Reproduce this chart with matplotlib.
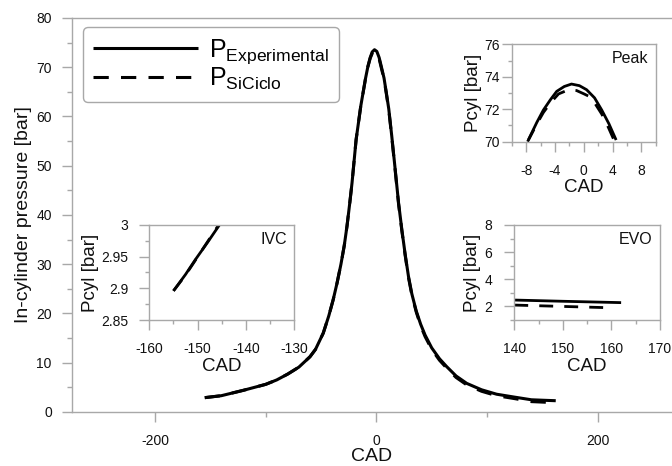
"""In-cylinder pressure: experiment vs SiCiclo, with IVC / peak / EVO close-ups."""

import matplotlib
matplotlib.use("Agg")
import matplotlib.pyplot as plt
from matplotlib.ticker import FormatStrFormatter, MultipleLocator

plt.rcParams["font.family"] = ["Liberation Sans", "DejaVu Sans"]
plt.rcParams["mathtext.fontset"] = "custom"
plt.rcParams["mathtext.rm"] = "Liberation Sans"
plt.rcParams["axes.unicode_minus"] = False

SPINE = "#a8a8a8"
INK = "#111111"

# Full cycle.
cad_exp = [-155, -140, -120, -100, -90, -80, -70, -60, -55, -48, -43, -39, -35.5, -32, -29,
           -26.5, -24, -22, -18.3, -14.1, -10, -7.7, -5.6, -3.75, -1.7, 0.4, 2.5, 4.5, 6.9,
           9, 11.2, 13.9, 17.1, 20, 23, 26, 29, 32, 36, 40, 44, 50, 57, 63.5, 72, 81.6, 95,
           108.6, 125, 140, 150, 162]
p_exp = [2.9, 3.3, 4.4, 5.6, 6.5, 7.7, 9.1, 11.2, 12.7, 16.0, 19.5, 22.8, 26.2, 30.0, 33.8,
         37.8, 42.5, 46.5, 55.3, 62.1, 67.5, 70.1, 71.95, 73.1, 73.55, 73.2, 71.95, 70.1, 67.8,
         64.8, 61.5, 56.0, 49.0, 42.5, 37.0, 32.0, 27.5, 24.0, 20.5, 17.8, 15.6, 13.0, 10.8,
         9.2, 7.3, 5.8, 4.5, 3.6, 3.0, 2.47, 2.38, 2.28]
cad_sim = [-155, -140, -120, -100, -90, -80, -70, -60, -55, -48, -43, -39, -35.5, -32, -29,
           -26.5, -24, -22, -18.3, -14.1, -10, -7.8, -5.6, -3.5, -2.1, 0.7, 2.5, 4.3, 6.9,
           9, 11.2, 13.9, 17.1, 20, 23, 26, 29, 32, 36, 40, 44, 50, 57, 63.5, 72, 81.6, 95,
           108.6, 125, 140, 150, 159]
p_sim = [2.9, 3.3, 4.4, 5.6, 6.5, 7.7, 9.1, 11.2, 12.7, 16.0, 19.5, 22.8, 26.2, 30.0, 33.8,
         37.8, 42.5, 46.5, 55.3, 62.1, 67.4, 70.0, 71.8, 72.94, 73.2, 72.8, 71.7, 70.0, 67.6,
         64.6, 61.3, 55.8, 48.8, 42.3, 36.8, 31.8, 27.3, 23.8, 20.3, 17.5, 15.3, 12.7, 10.5,
         8.9, 7.0, 5.5, 4.2, 3.3, 2.7, 2.1, 2.0, 1.91]

# Close-up: intake valve closing.
ivc_cad_exp = [-155, -152.5, -150.5, -148, -145.5]
ivc_p_exp = [2.896, 2.922, 2.945, 2.972, 3.0]
ivc_cad_sim = [-155, -152.5, -150.5, -148, -145.5]
ivc_p_sim = [2.896, 2.921, 2.944, 2.973, 3.002]

# Close-up: pressure peak.
peak_cad_exp = [-7.7, -6.5, -5.6, -4.6, -3.75, -2.7, -1.7, -0.6, 0.4, 1.5, 2.5, 3.5, 4.5]
peak_p_exp = [70.1, 71.2, 71.95, 72.6, 73.1, 73.4, 73.55, 73.45, 73.2, 72.7, 71.95, 71.1, 70.1]
peak_cad_sim = [-7.8, -6.5, -5.6, -4.6, -3.5, -2.1, -1.0, 0.0, 0.7, 1.5, 2.5, 3.4, 4.3]
peak_p_sim = [70.0, 71.1, 71.8, 72.4, 72.94, 73.2, 73.15, 72.95, 72.8, 72.4, 71.7, 70.9, 70.0]

# Close-up: exhaust valve opening.
evo_cad_exp = [140, 150, 162]
evo_p_exp = [2.47, 2.38, 2.28]
evo_cad_sim = [140, 150, 159]
evo_p_sim = [2.1, 2.0, 1.91]

LABEL_EXP = r"$\mathregular{P_{Experimental}}$"
LABEL_SIM = r"$\mathregular{P_{SiCiclo}}$"


def style_axes(ax, tick_len, label_size, xpad, ypad, box=True):
    for spine in ax.spines.values():
        spine.set_color(SPINE)
        spine.set_linewidth(1.0)
    if not box:
        ax.spines["right"].set_visible(False)
    ax.tick_params(which="both", direction="out", color=SPINE, labelcolor=INK,
                   labelsize=label_size, top=False, right=False)
    ax.tick_params(which="major", length=tick_len, width=1.0)
    ax.tick_params(which="minor", length=tick_len * 0.45, width=1.0)
    ax.tick_params(axis="x", pad=xpad)
    ax.tick_params(axis="y", pad=ypad)
    ax.xaxis.set_major_formatter(FormatStrFormatter("%g"))
    ax.yaxis.set_major_formatter(FormatStrFormatter("%g"))


def draw_pair(ax, cad_a, p_a, cad_b, p_b, lw=2.2):
    ax.plot(cad_a, p_a, color="black", linewidth=lw, solid_capstyle="butt", label=LABEL_EXP)
    ax.plot(cad_b, p_b, color="black", linewidth=lw, linestyle=(0, (5, 4)), label=LABEL_SIM)


def inset(fig, rect, cad_a, p_a, cad_b, p_b, xlim, ylim, xmaj, xmin, ymaj, ymin, tag, ypad):
    ax = fig.add_axes(rect)
    draw_pair(ax, cad_a, p_a, cad_b, p_b, lw=2.0)
    ax.set_xlim(*xlim)
    ax.set_ylim(*ylim)
    ax.xaxis.set_major_locator(MultipleLocator(xmaj))
    ax.xaxis.set_minor_locator(MultipleLocator(xmin))
    ax.yaxis.set_major_locator(MultipleLocator(ymaj))
    ax.yaxis.set_minor_locator(MultipleLocator(ymin))
    style_axes(ax, 7, 10, 9, ypad)
    ax.set_xlabel("CAD", fontsize=13.5, color=INK, labelpad=1)
    ax.set_ylabel("Pcyl [bar]", fontsize=13.5, color=INK, labelpad=2)
    ax.text(0.95, 0.93, tag, transform=ax.transAxes, ha="right", va="top",
            fontsize=11.5, color=INK)
    return ax


def main():
    fig = plt.figure(figsize=(6.72, 4.66), dpi=100)

    ax = fig.add_axes([0.107, 0.116, 0.893, 0.8455])
    draw_pair(ax, cad_exp, p_exp, cad_sim, p_sim)
    ax.set_xlim(-275, 267)
    ax.set_ylim(0, 80)
    ax.xaxis.set_major_locator(MultipleLocator(200))
    ax.xaxis.set_minor_locator(MultipleLocator(100))
    ax.yaxis.set_major_locator(MultipleLocator(10))
    ax.yaxis.set_minor_locator(MultipleLocator(5))
    style_axes(ax, 7.5, 10, 8.5, 7, box=False)
    ax.set_xlabel("CAD", fontsize=14, color=INK, labelpad=0)
    ax.set_ylabel("In-cylinder pressure [bar]", fontsize=14, color=INK, labelpad=3)

    leg = ax.legend(loc="upper left", bbox_to_anchor=(0.018, 0.977), borderaxespad=0,
                    fontsize=18, handlelength=4.2, handletextpad=0.45, labelspacing=0.0,
                    borderpad=0.4, fancybox=True, framealpha=1, edgecolor=SPINE)
    leg.get_frame().set_linewidth(1.0)

    inset(fig, [0.2222, 0.3133, 0.2158, 0.2039], ivc_cad_exp, ivc_p_exp, ivc_cad_sim, ivc_p_sim,
          (-160, -130), (2.85, 3.0), 10, 5, 0.05, 0.025, "IVC", 8)
    inset(fig, [0.7615, 0.696, 0.2143, 0.209], peak_cad_exp, peak_p_exp, peak_cad_sim, peak_p_sim,
          (-10, 10), (70, 76), 4, 2, 2, 1, "Peak", 1.5)
    inset(fig, [0.7653, 0.3133, 0.2168, 0.2039], evo_cad_exp, evo_p_exp, evo_cad_sim, evo_p_sim,
          (140, 170), (1, 8), 10, 5, 2, 1, "EVO", 9)

    fig.savefig("out.png", dpi=100)
    plt.close(fig)


if __name__ == "__main__":
    main()
